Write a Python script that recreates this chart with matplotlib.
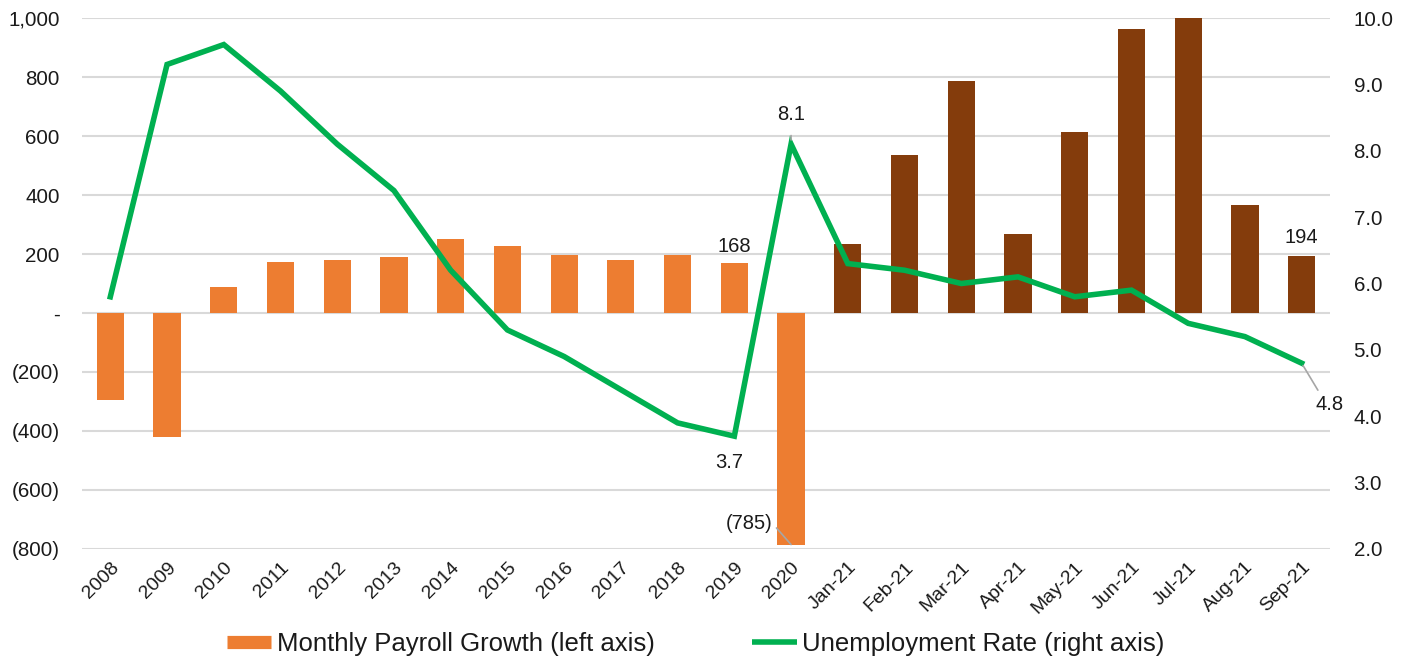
import matplotlib
matplotlib.use('Agg')
import matplotlib.pyplot as plt
from matplotlib.ticker import FuncFormatter, MultipleLocator
from matplotlib.lines import Line2D

plt.rcParams['font.family'] = ['Liberation Sans', 'DejaVu Sans']

categories = ['2008', '2009', '2010', '2011', '2012', '2013', '2014', '2015', '2016',
              '2017', '2018', '2019', '2020', 'Jan-21', 'Feb-21', 'Mar-21', 'Apr-21',
              'May-21', 'Jun-21', 'Jul-21', 'Aug-21', 'Sep-21']
payroll = [-296, -420, 87, 174, 181, 191, 250, 227, 196, 181, 196, 168, -785,
           233, 536, 785, 269, 614, 962, 1053, 366, 194]
unemployment = [5.8, 9.3, 9.6, 8.9, 8.1, 7.4, 6.2, 5.3, 4.9, 4.4, 3.9, 3.7, 8.1,
                6.3, 6.2, 6.0, 6.1, 5.8, 5.9, 5.4, 5.2, 4.8]
n_annual = 13

ORANGE = '#ED7D31'
BROWN = '#843C0C'
GREEN = '#00B050'
GRID = '#D9D9D9'

fig = plt.figure(figsize=(14.08, 6.62), dpi=100)
ax = fig.add_axes([0.0582, 0.1707, 0.8864, 0.8021])
ax2 = ax.twinx()

x = list(range(len(categories)))
colors = [ORANGE if i < n_annual else BROWN for i in x]
ax.bar(x, payroll, width=0.48, color=colors, zorder=2)
ax.set_xlim(-0.5, len(categories) - 0.5)
ax.set_ylim(-800, 1000)
ax.yaxis.set_major_locator(MultipleLocator(200))

def lfmt(v, pos):
    if abs(v) < 1e-9:
        return '-'
    if v < 0:
        return '({:,.0f})'.format(-v)
    return '{:,.0f}'.format(v)

ax.yaxis.set_major_formatter(FuncFormatter(lfmt))
ax.grid(axis='y', color=GRID, lw=1.5, zorder=0)
ax.set_axisbelow(True)

ax2.plot(x, unemployment, color=GREEN, lw=4.0, solid_joinstyle='miter', zorder=3)
ax2.set_ylim(2, 10)
ax2.yaxis.set_major_locator(MultipleLocator(1))
ax2.yaxis.set_major_formatter(FuncFormatter(lambda v, p: '{:.1f}'.format(v)))

for a in (ax, ax2):
    for s in a.spines.values():
        s.set_visible(False)

tcol = '#1a1a1a'
ax.tick_params(axis='y', length=0, pad=16, labelsize=14.8, colors=tcol)
ax2.tick_params(axis='y', length=0, pad=17, labelsize=14.8, colors=tcol)
ax.set_xticks(x)
ax.set_xticklabels(categories, rotation=45, ha='right', rotation_mode='anchor')
ax.tick_params(axis='x', length=0, pad=7, labelsize=14, colors=tcol)

# annotations
lc = '#A6A6A6'
afs = 14.5
ax.annotate('168', (11, payroll[11]), xytext=(0, 5), textcoords='offset points',
            ha='center', va='bottom', fontsize=afs, color=tcol)
ax.annotate('194', (21, payroll[21]), xytext=(0, 6), textcoords='offset points',
            ha='center', va='bottom', fontsize=afs, color=tcol)
ax.annotate('(785)', (12, payroll[12]), xytext=(-30, 15), textcoords='offset points',
            ha='center', va='center', fontsize=afs, color=tcol,
            arrowprops=dict(arrowstyle='-', color=lc, lw=1.2, relpos=(1, 0.5),
                            shrinkA=1, shrinkB=0))
ax2.annotate('8.1', (12, unemployment[12]), xytext=(0, 21), textcoords='offset points',
             ha='center', va='center', fontsize=afs, color=tcol,
             arrowprops=dict(arrowstyle='-', color=lc, lw=1.2, shrinkA=6, shrinkB=3))
ax2.annotate('3.7', (11, unemployment[11]), xytext=(-4, -19), textcoords='offset points',
             ha='center', va='center', fontsize=afs, color=tcol)
ax2.annotate('4.8', (21, unemployment[21]), xytext=(20, -30), textcoords='offset points',
             ha='center', va='center', fontsize=afs, color=tcol,
             arrowprops=dict(arrowstyle='-', color=lc, lw=1.2, relpos=(0.2, 1),
                             shrinkA=2, shrinkB=2))

handles = [Line2D([0], [0], color=ORANGE, lw=9.5, solid_capstyle='butt'),
           Line2D([0], [0], color=GREEN, lw=4.0, solid_capstyle='butt')]
labels = ['Monthly Payroll Growth (left axis)', 'Unemployment Rate (right axis)']
fig.legend(handles, labels, loc='center', bbox_to_anchor=(0.494, 0.027), ncol=2,
           frameon=False, fontsize=18.5, handlelength=1.75, handletextpad=0.2,
           columnspacing=3.8, borderpad=0, labelcolor=tcol)

fig.savefig('out.png', dpi=100)
